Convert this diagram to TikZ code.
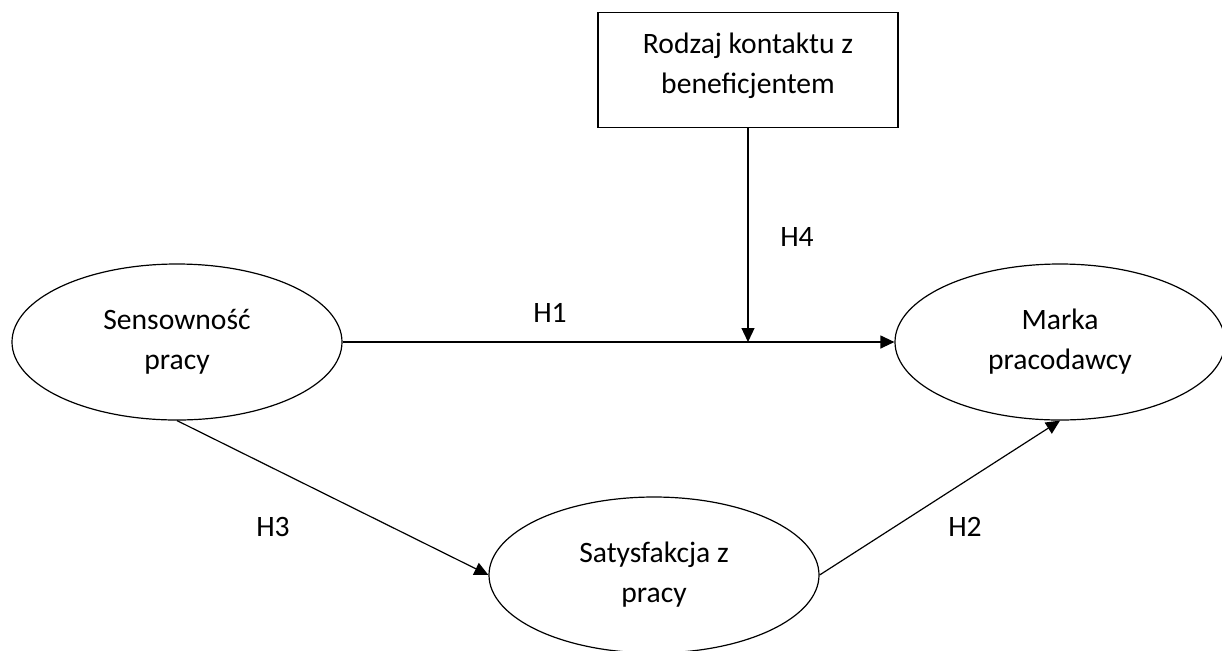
\documentclass[tikz,border=0pt]{standalone}
\usepackage{fontspec}
\setmainfont{Carlito}
\usetikzlibrary{arrows.meta,positioning,shapes.geometric,calc}

\begin{document}
\begin{tikzpicture}[
    x=0.5pt, y=-0.5pt,
    >={Triangle[length=7pt,width=6.5pt]},
    font=\fontsize{14.8}{20}\selectfont,
    line width=0.6pt,
    construct/.style={draw, ellipse, minimum width=165pt, minimum height=78pt, inner sep=0pt, align=center},
    modbox/.style={draw, rectangle, minimum width=150pt, minimum height=57.5pt, inner sep=0pt, align=center},
    hyp/.style={font=\fontsize{14.8}{17}\selectfont}
]

% Canvas
\useasboundingbox (0,0) rectangle (1222,650);

% Constructs
\node[construct] (sens) at (177,342) {Sensowność\\pracy};
\node[construct] (marka) at (1060,342) {Marka\\pracodawcy};
\node[construct] (satys) at (654,575) {Satysfakcja z\\pracy};

% Moderator
\node[modbox] (rodzaj) at (748,70) {Rodzaj kontaktu z\\beneficjentem\rule[-7pt]{0pt}{0pt}};
\coordinate (h4end) at (rodzaj.south |- sens.east);

% Paths
\draw[->] (sens.east) -- (marka.west);
\draw[->] (rodzaj.south) -- (h4end);
\draw[->] (sens.south) -- (satys.west);
\draw[->] (satys.east) -- (marka.south);

% Hypotheses
\node[hyp] (h1) at (550,313) {H1};
\node[hyp] (h4) at (797,237) {H4};
\node[hyp] (h3) at (273,527) {H3};
\node[hyp] (h2) at (965,527) {H2};

\end{tikzpicture}
\end{document}
